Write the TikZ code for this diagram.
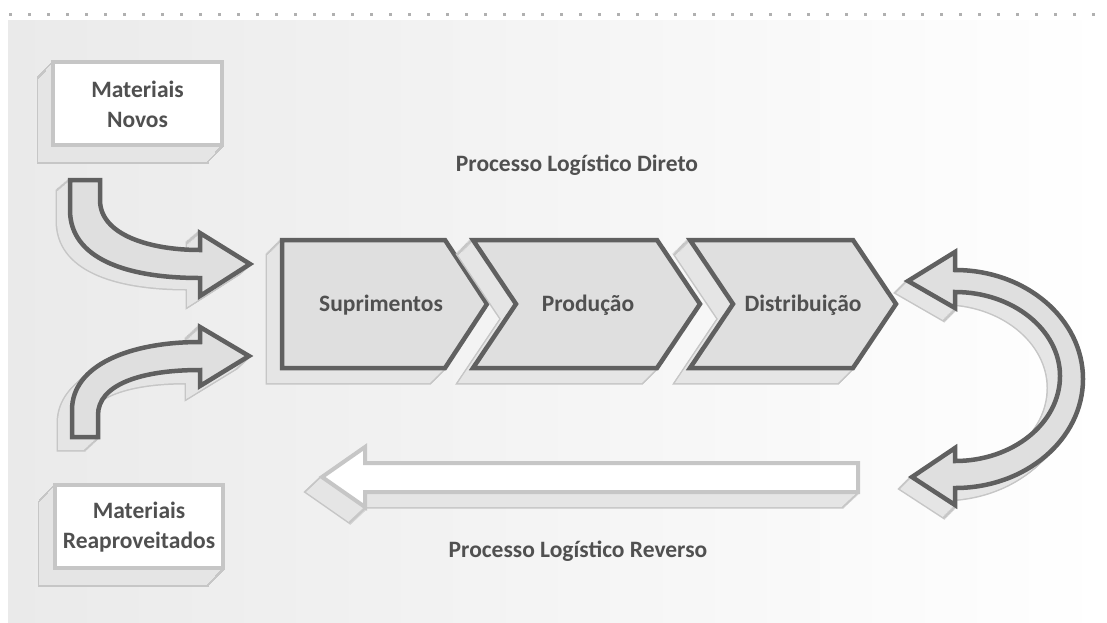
\documentclass[tikz,border=0pt]{standalone}
\usepackage{fontspec}
\setmainfont{Carlito}
\usepackage{xcolor}
\usepackage{tikz}
\definecolor{paper}{RGB}{234,234,234}
\definecolor{dots}{RGB}{176,176,176}
\definecolor{ink}{RGB}{80,80,80}
\definecolor{edge}{RGB}{96,96,96}
\definecolor{face}{RGB}{223,223,223}
\definecolor{rim}{RGB}{198,198,198}
\definecolor{rimfill}{RGB}{229,229,229}

% #1 outline, #2/#3 depth offset, #4 style of the front face
\newcommand{\raised}[4]{%
  \foreach \dd in {0,...,16}
    \draw[rim, line width=3, shift={({#2*\dd/16},{#3*\dd/16})}] #1;
  \foreach \dd in {0,...,16}
    \fill[rimfill, shift={({#2*\dd/16},{#3*\dd/16})}] #1;
  \draw[#4] #1;
}

\begin{document}
\begin{tikzpicture}[x=1pt, y=-1pt,
    tag/.style={font=\fontsize{23.5}{30}\selectfont\bfseries, text=ink, align=center},
    front/.style={draw=edge, line width=4.5, fill=face},
    flat/.style={draw=rim, line width=4, fill=white}]

    \useasboundingbox (0,0) rectangle (1107,622);
    \fill[left color=paper, right color=white] (8,20) rectangle (1107,622);
    \foreach \x in {0,...,57}
        \fill[dots] ({8.5+19*\x},12.5) rectangle ++(3.5,3.5);

    % material sources
    \raised{(53,62) rectangle (222,145)}{-15}{17}{flat}
    \node[tag] (novos) at (137.5,104) {Materiais\\Novos};
    \raised{(55,485) rectangle (223,568)}{-16}{17}{flat}
    \node[tag] (reaprov) at (139,527) {Materiais\\Reaproveitados};

    % chevron chain
    \raised{(282,240) -- (445,240) -- (487,304) -- (445,368) -- (282,368) -- cycle}{-15}{15}{front}
    \raised{(473,240) -- (657,240) -- (700,304) -- (657,368) -- (473,368) -- (516,304) -- cycle}{-15}{15}{front}
    \raised{(690,240) -- (853,240) -- (896,304) -- (853,368) -- (690,368) -- (733,304) -- cycle}{-15}{15}{front}
    \node[tag, anchor=base] (suprim) at (381,311) {Suprimentos};
    \node[tag, anchor=base] (producao) at (588,311) {Produção};
    \node[tag, anchor=base] (distrib) at (803,311) {Distribuição};

    % block arrows
    \raised{(70,180) -- (100,180) -- (100,200) .. controls (100,235) and (150,250) .. (200,250)
        -- (200,233) -- (250,264) -- (200,296) -- (200,278)
        .. controls (125,278) and (70,258) .. (70,210) -- cycle}{-13}{11}{front}
    \raised{(72,437) -- (72,410) .. controls (72,365) and (130,342) .. (200,342)
        -- (200,327) -- (249,356) -- (200,386) -- (200,370)
        .. controls (140,370) and (98,385) .. (98,415) -- (98,437) -- cycle}{-14}{13}{front}
    \raised{(908,281) -- (955,252) -- (955,270) .. controls (1026,270) and (1083,319) .. (1083,379)
        .. controls (1083,439) and (1026,488) .. (955,488) -- (955,505) -- (912,477) -- (955,448)
        -- (955,461) .. controls (1013,461) and (1060,423) .. (1060,376)
        .. controls (1060,330) and (1013,292) .. (955,292) -- (955,308) -- cycle}{-12}{12}{front}
    \raised{(322,477) -- (365,447) -- (365,463) -- (858,463) -- (858,492) -- (365,492)
        -- (365,507) -- cycle}{-16}{15}{flat}

    \node[tag, anchor=base] (direto) at (577,171) {Processo Logístico Direto};
    \node[tag, anchor=base] (reverso) at (578,557) {Processo Logístico Reverso};
\end{tikzpicture}
\end{document}
